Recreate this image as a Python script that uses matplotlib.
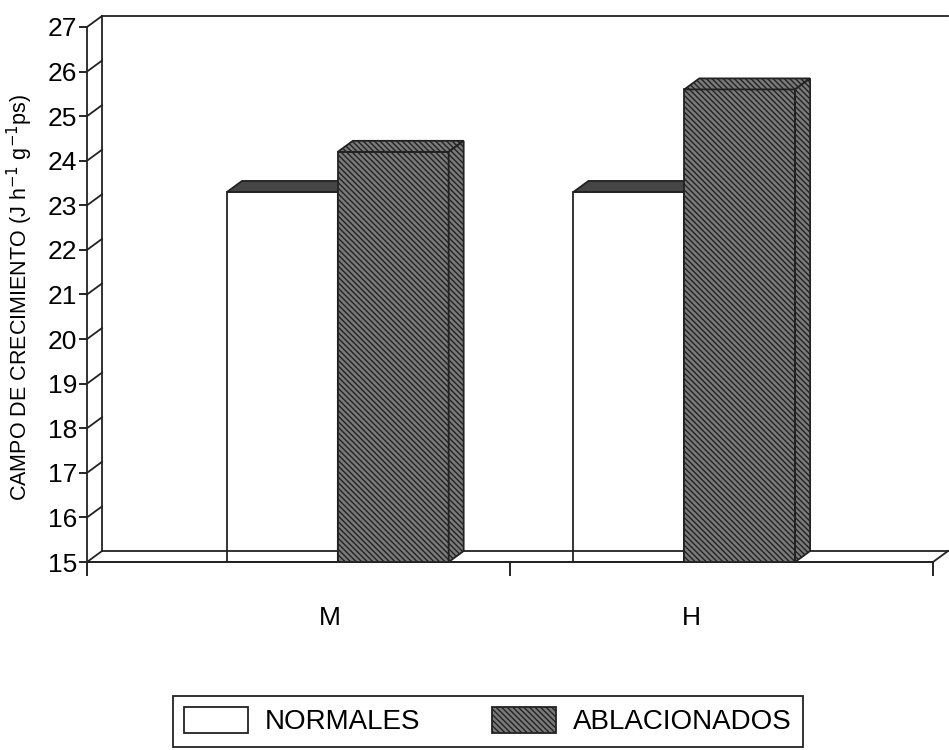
import numpy as np
import matplotlib
matplotlib.use('Agg')
import matplotlib.pyplot as plt
from matplotlib.patches import Polygon, Patch

plt.rcParams['font.family'] = ['Liberation Sans', 'DejaVu Sans']
plt.rcParams['hatch.linewidth'] = 1.0

# ----------------------------------------------------------------------
# data (read off the front faces of the 3D columns)
# ----------------------------------------------------------------------
categories = ['M', 'H']
series_names = ['NORMALES', 'ABLACIONADOS']
normales = [23.3, 23.3]
ablacionados = [24.2, 25.6]
yticks = list(range(15, 28))

# layout of the fake 3D box
W, H = 949, 750
x0_px, y0_px, w_px, h_px = 87, 562, 846, 535
DX = 15 / (w_px / 2.0)          # depth offset in x data units
DY = 11 / (h_px / 12.0)         # depth offset in y data units
group_left = [0.331, 1.150]
bar_w = 0.262
hatch_fc = '#7a7a7a'
hatch_ec = '#1a1a1a'
hatch = '\\\\\\\\\\\\'

fig = plt.figure(figsize=(W / 100, H / 100), dpi=100)
ax = fig.add_axes([x0_px / W, 1 - y0_px / H, w_px / W, h_px / H])
ax.set_xlim(0, 2)
ax.set_ylim(15, 27)
for s in ['top', 'right']:
    ax.spines[s].set_visible(False)
for s in ['left', 'bottom']:
    ax.spines[s].set_linewidth(1.3)
    ax.spines[s].set_color('#222222')
ax.set_yticks(yticks)
ax.set_yticklabels([str(t) for t in yticks], fontsize=19)
ax.tick_params(axis='y', direction='out', length=6, width=1.2, pad=1)
ax.set_xticks([0, 1, 2])
ax.set_xticklabels([])
ax.tick_params(axis='x', direction='out', length=10, width=1.2)

line_kw = dict(color='#222222', lw=1.3, clip_on=False)

# side wall diagonals + back wall
for t in yticks:
    ax.plot([0, DX], [t, t + DY], **line_kw)
ax.plot([DX, DX], [15 + DY, 27 + DY], **line_kw)
ax.plot([DX, 2 + DX], [27 + DY, 27 + DY], **line_kw)
ax.plot([2, 2 + DX], [15, 15 + DY], **line_kw)


def box(x, w, top, fc, hatch=None, z=2, top_fc=None):
    # front face
    ax.bar(x, top - 15, width=w, bottom=15, align='edge', color=fc,
           edgecolor='#222222', linewidth=1.3, hatch=hatch, zorder=z)
    # top face
    tf = Polygon([(x, top), (x + w, top), (x + w + DX, top + DY), (x + DX, top + DY)],
                 closed=True, facecolor=top_fc or fc, edgecolor='#222222',
                 linewidth=1.3, hatch=hatch, zorder=z, clip_on=False)
    ax.add_patch(tf)
    # side face
    sf = Polygon([(x + w, 15), (x + w + DX, 15 + DY), (x + w + DX, top + DY), (x + w, top)],
                 closed=True, facecolor=top_fc or fc, edgecolor='#222222',
                 linewidth=1.3, hatch=hatch, zorder=z, clip_on=False)
    ax.add_patch(sf)


plt.rcParams['hatch.color'] = hatch_ec
for i in range(len(categories)):
    box(group_left[i], bar_w, normales[i], 'white', z=2, top_fc='#454545')

# floor lines drawn across the white columns
ax.plot([DX, 2 + DX], [15 + DY, 15 + DY], color='#222222', lw=1.3, clip_on=False, zorder=3)
ax.plot([0, 2], [15, 15], color='#222222', lw=1.3, clip_on=False, zorder=3)

for i in range(len(categories)):
    box(group_left[i] + bar_w, bar_w, ablacionados[i], hatch_fc, hatch=hatch, z=4)

# category labels
label_x = [0.574, 1.428]
for cx, c in zip(label_x, categories):
    ax.text(cx, 13.75, c, ha='center', va='center', fontsize=19)

fig.text(20 / W, 1 - 297 / H, 'CAMPO DE CRECIMIENTO (J h$^{-1}$ g$^{-1}$ps)',
         rotation=90, ha='center', va='center', fontsize=15.5)

handles = [Patch(facecolor='white', edgecolor='#222222', linewidth=1.3, label=series_names[0]),
           Patch(facecolor=hatch_fc, edgecolor='#222222', linewidth=1.3,
                 hatch=hatch, label=series_names[1])]
leg = fig.legend(handles=handles, loc='center', bbox_to_anchor=(488 / W, 1 - 721 / H),
                 ncol=2, fontsize=20, frameon=True, fancybox=False, framealpha=1,
                 edgecolor='#222222', handlelength=2.3, handleheight=1.1,
                 handletextpad=0.6, columnspacing=2.6, borderpad=0.4)
leg.get_frame().set_linewidth(1.3)

fig.savefig('out.png', dpi=100)
